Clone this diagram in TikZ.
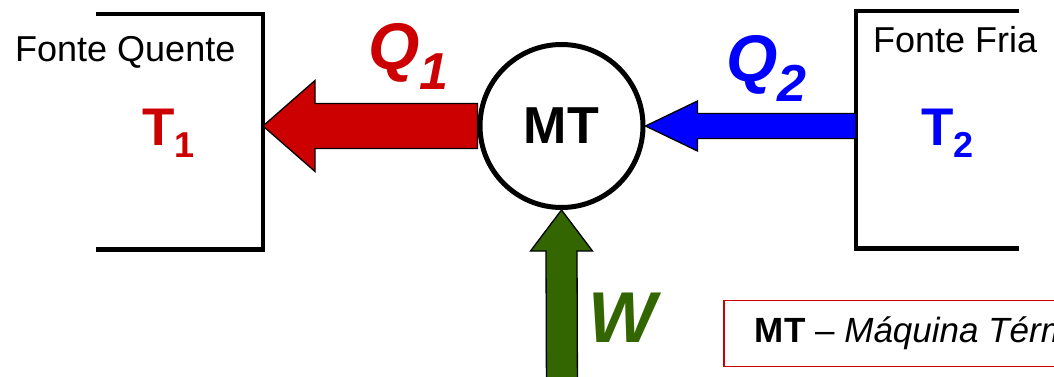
\documentclass[tikz,border=0pt]{standalone}
\usepackage{fontspec}
\setmainfont{Liberation Sans}
\usepackage{tikz}
\usetikzlibrary{calc}
\definecolor{hotred}{RGB}{204,0,0}
\definecolor{coldblue}{RGB}{0,0,255}
\definecolor{workgreen}{RGB}{51,102,0}
\newcommand{\lowidx}[3]{\raisebox{-#1pt}{\fontsize{#2}{#2}\selectfont #3}}

\begin{document}
\begin{tikzpicture}[
  x=1pt, y=-1pt,
  reservoir/.style={rectangle, inner sep=0pt, outer sep=0pt},
  wall/.style={line width=4.5pt, black},
  srclabel/.style={inner sep=0pt, anchor=base west, font=\fontsize{36}{40}\selectfont},
  templabel/.style={inner sep=0pt, anchor=base west, font=\fontsize{53}{56}\selectfont\bfseries},
  heatlabel/.style={inner sep=0pt, anchor=base west, font=\fontsize{66}{70}\selectfont\bfseries\itshape},
  engine/.style={circle, draw, line width=5pt, minimum size=163pt, inner sep=0pt, font=\fontsize{52}{56}\selectfont\bfseries},
  blockarrow/.style={draw=black, line width=1.3pt, line join=miter},
  legend/.style={rectangle, draw=hotred, line width=1.8pt, anchor=north west, minimum height=66pt, inner xsep=31pt, font=\fontsize{35}{38}\selectfont}
]
  \clip (0,0) rectangle (1054,377);

  % reservoirs
  \node[reservoir, minimum width=167pt, minimum height=235.5pt] (hot) at (179.5,131.75) {};
  \node[reservoir, minimum width=163pt, minimum height=237.5pt] (cold) at (937.5,129.75) {};
  \draw[wall] (hot.north west) -- (hot.north east) -- (hot.south east) -- (hot.south west);
  \draw[wall] (cold.north east) -- (cold.north west) -- (cold.south west) -- (cold.south east);

  \node[srclabel] (hotname) at (15,62) {Fonte Quente};
  \node[srclabel] (coldname) at (873,53) {Fonte Fria};
  \node[templabel, text=hotred] (thot) at (142,145) {T\lowidx{13}{36}{1}};
  \node[templabel, text=coldblue] (tcold) at (921,145) {T\lowidx{13}{36}{2}};

  % engine
  \node[engine] (mt) at (561.5,126) {MT};
  \coordinate (wfoot) at (562,400);

  % heat and work arrows
  \coordinate (rtip) at (hot.east |- mt.west);
  \draw[blockarrow, fill=hotred] (rtip) -- ($(rtip)+(52,-45.5)$) -- ($(rtip)+(52,-22.5)$)
    -- ($(mt.west)+(0,-22.5)$) -- ($(mt.west)+(0,22.5)$)
    -- ($(rtip)+(52,22.5)$) -- ($(rtip)+(52,45.5)$) -- cycle;
  \coordinate (btail) at (cold.west |- mt.east);
  \draw[blockarrow, fill=coldblue] (mt.east) -- ($(mt.east)+(52,-25)$) -- ($(mt.east)+(52,-12.5)$)
    -- ($(btail)+(0,-12.5)$) -- ($(btail)+(0,12.5)$)
    -- ($(mt.east)+(52,12.5)$) -- ($(mt.east)+(52,25)$) -- cycle;
  \draw[blockarrow, fill=workgreen] (mt.south) -- ($(mt.south)+(31,41)$) -- ($(mt.south)+(15.5,41)$)
    -- ($(wfoot)+(15.5,0)$) -- ($(wfoot)+(-15.5,0)$)
    -- ($(mt.south)+(-15.5,41)$) -- ($(mt.south)+(-31,41)$) -- cycle;

  \node[heatlabel, text=hotred] (qhot) at (368,70) {Q\lowidx{20}{52}{1}};
  \node[heatlabel, text=coldblue] (qcold) at (726,82) {Q\lowidx{20}{52}{2}};
  \node[heatlabel, text=workgreen, font=\fontsize{72}{76}\selectfont\bfseries\itshape] (wlabel) at (588,342) {W};

  \node[legend] (key) at (723,299.5) {\textbf{MT} -- \textit{Máquina Térmica}};
\end{tikzpicture}
\end{document}
